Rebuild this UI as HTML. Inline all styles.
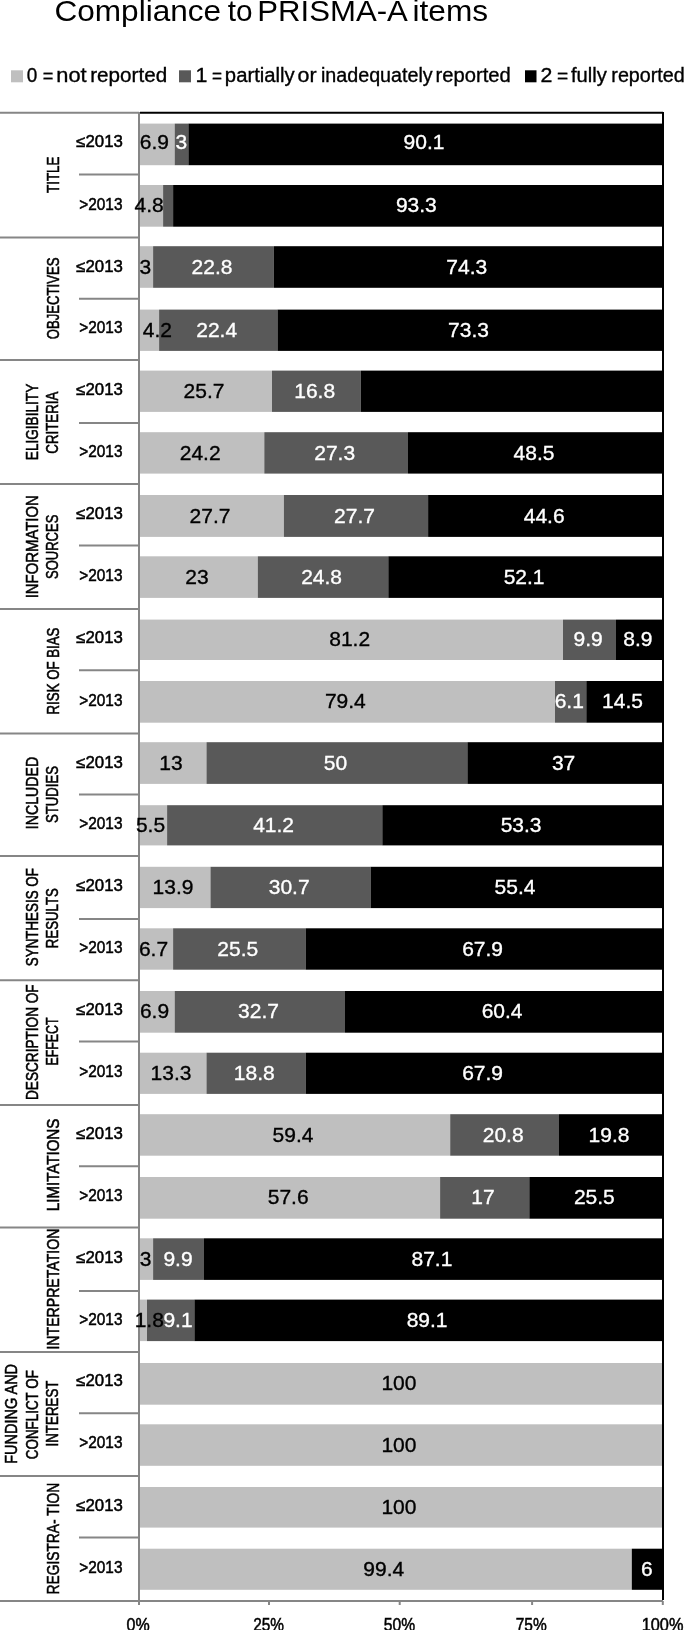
<!DOCTYPE html>
<html><head><meta charset="utf-8"><title>Compliance to PRISMA-A items</title>
<style>html,body{margin:0;padding:0;background:#fff;}svg{display:block;will-change:transform;}</style>
</head><body>
<svg width="685" height="1630" viewBox="0 0 685 1630" font-family="Liberation Sans, sans-serif">
<rect width="685" height="1630" fill="#fff"/>
<text x="54.42" y="21.30" font-size="29.5" fill="#000" textLength="166.76" lengthAdjust="spacingAndGlyphs">Compliance</text>
<text x="227.70" y="21.30" font-size="29.5" fill="#000" textLength="24.81" lengthAdjust="spacingAndGlyphs">to</text>
<text x="257.31" y="21.30" font-size="29.5" fill="#000" textLength="150.52" lengthAdjust="spacingAndGlyphs">PRISMA-A</text>
<text x="412.49" y="21.30" font-size="29.5" fill="#000" textLength="75.55" lengthAdjust="spacingAndGlyphs">items</text>
<rect x="11" y="70.3" width="12" height="12" fill="#bfbfbf"/>
<rect x="179" y="70.3" width="12" height="12" fill="#595959"/>
<rect x="525" y="70.3" width="11.5" height="12" fill="#000000"/>
<text x="26.74" y="82.40" font-size="20" fill="#000" textLength="10.54" lengthAdjust="spacingAndGlyphs" stroke="#000" stroke-width="0.35">0</text>
<text x="42.69" y="83.00" font-size="20" fill="#000" textLength="10.61" lengthAdjust="spacingAndGlyphs" stroke="#000" stroke-width="0.35">=</text>
<text x="56.27" y="82.40" font-size="20" fill="#000" textLength="30.35" lengthAdjust="spacingAndGlyphs" stroke="#000" stroke-width="0.35">not</text>
<text x="90.26" y="82.40" font-size="20" fill="#000" textLength="76.87" lengthAdjust="spacingAndGlyphs" stroke="#000" stroke-width="0.35">reported</text>
<text x="195.49" y="82.40" font-size="20" fill="#000" textLength="11.90" lengthAdjust="spacingAndGlyphs" stroke="#000" stroke-width="0.35">1</text>
<text x="212.04" y="83.00" font-size="20" fill="#000" textLength="10.01" lengthAdjust="spacingAndGlyphs" stroke="#000" stroke-width="0.35">=</text>
<text x="224.88" y="82.40" font-size="20" fill="#000" textLength="69.83" lengthAdjust="spacingAndGlyphs" stroke="#000" stroke-width="0.35">partially</text>
<text x="297.54" y="82.40" font-size="20" fill="#000" textLength="19.05" lengthAdjust="spacingAndGlyphs" stroke="#000" stroke-width="0.35">or</text>
<text x="320.92" y="82.40" font-size="20" fill="#000" textLength="111.80" lengthAdjust="spacingAndGlyphs" stroke="#000" stroke-width="0.35">inadequately</text>
<text x="435.59" y="82.40" font-size="20" fill="#000" textLength="75.21" lengthAdjust="spacingAndGlyphs" stroke="#000" stroke-width="0.35">reported</text>
<text x="540.53" y="82.40" font-size="20" fill="#000" textLength="11.85" lengthAdjust="spacingAndGlyphs" stroke="#000" stroke-width="0.35">2</text>
<text x="557.04" y="83.00" font-size="20" fill="#000" textLength="11.20" lengthAdjust="spacingAndGlyphs" stroke="#000" stroke-width="0.35">=</text>
<text x="570.90" y="82.40" font-size="20" fill="#000" textLength="35.87" lengthAdjust="spacingAndGlyphs" stroke="#000" stroke-width="0.35">fully</text>
<text x="611.32" y="82.40" font-size="20" fill="#000" textLength="73.45" lengthAdjust="spacingAndGlyphs" stroke="#000" stroke-width="0.35">reported</text>
<rect x="139.00" y="123.60" width="35.70" height="41.6" fill="#bfbfbf"/>
<rect x="174.70" y="123.60" width="13.70" height="41.6" fill="#595959"/>
<rect x="188.40" y="123.60" width="474.10" height="41.6" fill="#000000"/>
<rect x="139.00" y="185.00" width="24.10" height="41.7" fill="#bfbfbf"/>
<rect x="163.10" y="185.00" width="10.00" height="41.7" fill="#595959"/>
<rect x="173.10" y="185.00" width="489.40" height="41.7" fill="#000000"/>
<rect x="139.00" y="246.20" width="14.10" height="41.6" fill="#bfbfbf"/>
<rect x="153.10" y="246.20" width="120.80" height="41.6" fill="#595959"/>
<rect x="273.90" y="246.20" width="388.60" height="41.6" fill="#000000"/>
<rect x="139.00" y="309.60" width="20.10" height="41.3" fill="#bfbfbf"/>
<rect x="159.10" y="309.60" width="118.40" height="41.3" fill="#595959"/>
<rect x="277.50" y="309.60" width="385.00" height="41.3" fill="#000000"/>
<rect x="139.00" y="370.60" width="133.00" height="41.3" fill="#bfbfbf"/>
<rect x="272.00" y="370.60" width="88.80" height="41.3" fill="#595959"/>
<rect x="360.80" y="370.60" width="301.70" height="41.3" fill="#000000"/>
<rect x="139.00" y="432.20" width="125.30" height="41.4" fill="#bfbfbf"/>
<rect x="264.30" y="432.20" width="143.70" height="41.4" fill="#595959"/>
<rect x="408.00" y="432.20" width="254.50" height="41.4" fill="#000000"/>
<rect x="139.00" y="495.00" width="144.90" height="41.9" fill="#bfbfbf"/>
<rect x="283.90" y="495.00" width="144.20" height="41.9" fill="#595959"/>
<rect x="428.10" y="495.00" width="234.40" height="41.9" fill="#000000"/>
<rect x="139.00" y="556.30" width="118.80" height="41.6" fill="#bfbfbf"/>
<rect x="257.80" y="556.30" width="130.50" height="41.6" fill="#595959"/>
<rect x="388.30" y="556.30" width="274.20" height="41.6" fill="#000000"/>
<rect x="139.00" y="619.60" width="424.00" height="40.4" fill="#bfbfbf"/>
<rect x="563.00" y="619.60" width="53.00" height="40.4" fill="#595959"/>
<rect x="616.00" y="619.60" width="46.50" height="40.4" fill="#000000"/>
<rect x="139.00" y="681.00" width="416.00" height="41.7" fill="#bfbfbf"/>
<rect x="555.00" y="681.00" width="31.30" height="41.7" fill="#595959"/>
<rect x="586.30" y="681.00" width="76.20" height="41.7" fill="#000000"/>
<rect x="139.00" y="742.20" width="67.50" height="41.7" fill="#bfbfbf"/>
<rect x="206.50" y="742.20" width="260.90" height="41.7" fill="#595959"/>
<rect x="467.40" y="742.20" width="195.10" height="41.7" fill="#000000"/>
<rect x="139.00" y="805.20" width="28.10" height="40.2" fill="#bfbfbf"/>
<rect x="167.10" y="805.20" width="215.20" height="40.2" fill="#595959"/>
<rect x="382.30" y="805.20" width="280.20" height="40.2" fill="#000000"/>
<rect x="139.00" y="866.80" width="71.50" height="41.3" fill="#bfbfbf"/>
<rect x="210.50" y="866.80" width="160.10" height="41.3" fill="#595959"/>
<rect x="370.60" y="866.80" width="291.90" height="41.3" fill="#000000"/>
<rect x="139.00" y="928.30" width="34.10" height="41.4" fill="#bfbfbf"/>
<rect x="173.10" y="928.30" width="132.50" height="41.4" fill="#595959"/>
<rect x="305.60" y="928.30" width="356.90" height="41.4" fill="#000000"/>
<rect x="139.00" y="991.00" width="35.70" height="41.7" fill="#bfbfbf"/>
<rect x="174.70" y="991.00" width="170.30" height="41.7" fill="#595959"/>
<rect x="345.00" y="991.00" width="317.50" height="41.7" fill="#000000"/>
<rect x="139.00" y="1052.70" width="67.50" height="41.2" fill="#bfbfbf"/>
<rect x="206.50" y="1052.70" width="99.10" height="41.2" fill="#595959"/>
<rect x="305.60" y="1052.70" width="356.90" height="41.2" fill="#000000"/>
<rect x="139.00" y="1114.20" width="311.20" height="41.5" fill="#bfbfbf"/>
<rect x="450.20" y="1114.20" width="108.80" height="41.5" fill="#595959"/>
<rect x="559.00" y="1114.20" width="103.50" height="41.5" fill="#000000"/>
<rect x="139.00" y="1177.00" width="301.10" height="41.7" fill="#bfbfbf"/>
<rect x="440.10" y="1177.00" width="89.20" height="41.7" fill="#595959"/>
<rect x="529.30" y="1177.00" width="133.20" height="41.7" fill="#000000"/>
<rect x="139.00" y="1238.30" width="14.10" height="41.6" fill="#bfbfbf"/>
<rect x="153.10" y="1238.30" width="50.90" height="41.6" fill="#595959"/>
<rect x="204.00" y="1238.30" width="458.50" height="41.6" fill="#000000"/>
<rect x="139.00" y="1299.60" width="8.00" height="41.5" fill="#bfbfbf"/>
<rect x="147.00" y="1299.60" width="47.40" height="41.5" fill="#595959"/>
<rect x="194.40" y="1299.60" width="468.10" height="41.5" fill="#000000"/>
<rect x="139.00" y="1363.00" width="523.50" height="41.7" fill="#bfbfbf"/>
<rect x="139.00" y="1424.30" width="523.50" height="41.5" fill="#bfbfbf"/>
<rect x="139.00" y="1487.00" width="523.50" height="40.6" fill="#bfbfbf"/>
<rect x="139.00" y="1548.70" width="492.80" height="41.1" fill="#bfbfbf"/>
<rect x="631.80" y="1548.70" width="30.70" height="41.1" fill="#000000"/>
<g stroke="#868686" stroke-width="2" fill="none">
<line x1="0" y1="112.8" x2="139" y2="112.8"/>
<line x1="0" y1="237.4" x2="139" y2="237.4"/>
<line x1="0" y1="359.9" x2="139" y2="359.9"/>
<line x1="0" y1="484.1" x2="139" y2="484.1"/>
<line x1="0" y1="608.9" x2="139" y2="608.9"/>
<line x1="0" y1="733.6" x2="139" y2="733.6"/>
<line x1="0" y1="855.9" x2="139" y2="855.9"/>
<line x1="0" y1="980.2" x2="139" y2="980.2"/>
<line x1="0" y1="1104.9" x2="139" y2="1104.9"/>
<line x1="0" y1="1227.6" x2="139" y2="1227.6"/>
<line x1="0" y1="1351.9" x2="139" y2="1351.9"/>
<line x1="0" y1="1476.1" x2="139" y2="1476.1"/>
<line x1="79" y1="174.4" x2="139" y2="174.4"/>
<line x1="79" y1="298.8" x2="139" y2="298.8"/>
<line x1="79" y1="423" x2="139" y2="423"/>
<line x1="79" y1="545.6" x2="139" y2="545.6"/>
<line x1="79" y1="670.2" x2="139" y2="670.2"/>
<line x1="79" y1="794.5" x2="139" y2="794.5"/>
<line x1="79" y1="919" x2="139" y2="919"/>
<line x1="79" y1="1041.5" x2="139" y2="1041.5"/>
<line x1="79" y1="1166.2" x2="139" y2="1166.2"/>
<line x1="79" y1="1291" x2="139" y2="1291"/>
<line x1="79" y1="1413.2" x2="139" y2="1413.2"/>
<line x1="79" y1="1537.5" x2="139" y2="1537.5"/>
<line x1="139" y1="112" x2="139" y2="1605"/>
<line x1="0" y1="1601" x2="663" y2="1601"/>
<line x1="269" y1="1601" x2="269" y2="1605"/>
<line x1="399.7" y1="1601" x2="399.7" y2="1605"/>
<line x1="532.1" y1="1601" x2="532.1" y2="1605"/>
<line x1="662.8" y1="1601" x2="662.8" y2="1605"/>
</g>
<g stroke="#000" stroke-width="2" fill="none">
<line x1="140" y1="112.7" x2="663" y2="112.7"/>
<line x1="663" y1="112" x2="663" y2="1600"/>
</g>
<text x="139.71" y="149.00" font-size="21" fill="#000" textLength="29.19" lengthAdjust="spacingAndGlyphs" stroke="#000" stroke-width="0.35">6.9</text>
<text x="175.62" y="149.00" font-size="21" fill="#fff" textLength="11.68" lengthAdjust="spacingAndGlyphs" stroke="#fff" stroke-width="0.35">3</text>
<text x="403.57" y="149.00" font-size="21" fill="#fff" textLength="40.87" lengthAdjust="spacingAndGlyphs" stroke="#fff" stroke-width="0.35">90.1</text>
<text x="134.52" y="212.45" font-size="21" fill="#000" textLength="29.19" lengthAdjust="spacingAndGlyphs" stroke="#000" stroke-width="0.35">4.8</text>
<text x="395.93" y="212.45" font-size="21" fill="#fff" textLength="40.87" lengthAdjust="spacingAndGlyphs" stroke="#fff" stroke-width="0.35">93.3</text>
<text x="139.42" y="273.60" font-size="21" fill="#000" textLength="11.68" lengthAdjust="spacingAndGlyphs" stroke="#000" stroke-width="0.35">3</text>
<text x="191.62" y="273.60" font-size="21" fill="#fff" textLength="40.87" lengthAdjust="spacingAndGlyphs" stroke="#fff" stroke-width="0.35">22.8</text>
<text x="446.32" y="273.60" font-size="21" fill="#fff" textLength="40.87" lengthAdjust="spacingAndGlyphs" stroke="#fff" stroke-width="0.35">74.3</text>
<text x="142.72" y="336.85" font-size="21" fill="#000" textLength="29.19" lengthAdjust="spacingAndGlyphs" stroke="#000" stroke-width="0.35">4.2</text>
<text x="196.22" y="336.85" font-size="21" fill="#fff" textLength="40.87" lengthAdjust="spacingAndGlyphs" stroke="#fff" stroke-width="0.35">22.4</text>
<text x="448.12" y="336.85" font-size="21" fill="#fff" textLength="40.87" lengthAdjust="spacingAndGlyphs" stroke="#fff" stroke-width="0.35">73.3</text>
<text x="183.62" y="397.85" font-size="21" fill="#000" textLength="40.87" lengthAdjust="spacingAndGlyphs" stroke="#000" stroke-width="0.35">25.7</text>
<text x="294.21" y="397.85" font-size="21" fill="#fff" textLength="40.87" lengthAdjust="spacingAndGlyphs" stroke="#fff" stroke-width="0.35">16.8</text>
<text x="179.77" y="459.50" font-size="21" fill="#000" textLength="40.87" lengthAdjust="spacingAndGlyphs" stroke="#000" stroke-width="0.35">24.2</text>
<text x="314.27" y="459.50" font-size="21" fill="#fff" textLength="40.87" lengthAdjust="spacingAndGlyphs" stroke="#fff" stroke-width="0.35">27.3</text>
<text x="513.59" y="459.50" font-size="21" fill="#fff" textLength="40.87" lengthAdjust="spacingAndGlyphs" stroke="#fff" stroke-width="0.35">48.5</text>
<text x="189.57" y="522.55" font-size="21" fill="#000" textLength="40.87" lengthAdjust="spacingAndGlyphs" stroke="#000" stroke-width="0.35">27.7</text>
<text x="334.12" y="522.55" font-size="21" fill="#fff" textLength="40.87" lengthAdjust="spacingAndGlyphs" stroke="#fff" stroke-width="0.35">27.7</text>
<text x="523.74" y="522.55" font-size="21" fill="#fff" textLength="40.87" lengthAdjust="spacingAndGlyphs" stroke="#fff" stroke-width="0.35">44.6</text>
<text x="185.24" y="583.70" font-size="21" fill="#000" textLength="23.36" lengthAdjust="spacingAndGlyphs" stroke="#000" stroke-width="0.35">23</text>
<text x="301.18" y="583.70" font-size="21" fill="#fff" textLength="40.87" lengthAdjust="spacingAndGlyphs" stroke="#fff" stroke-width="0.35">24.8</text>
<text x="503.63" y="583.70" font-size="21" fill="#fff" textLength="40.87" lengthAdjust="spacingAndGlyphs" stroke="#fff" stroke-width="0.35">52.1</text>
<text x="329.23" y="646.40" font-size="21" fill="#000" textLength="40.87" lengthAdjust="spacingAndGlyphs" stroke="#000" stroke-width="0.35">81.2</text>
<text x="573.51" y="646.40" font-size="21" fill="#fff" textLength="29.19" lengthAdjust="spacingAndGlyphs" stroke="#fff" stroke-width="0.35">9.9</text>
<text x="623.36" y="646.40" font-size="21" fill="#fff" textLength="29.19" lengthAdjust="spacingAndGlyphs" stroke="#fff" stroke-width="0.35">8.9</text>
<text x="324.92" y="708.45" font-size="21" fill="#000" textLength="40.87" lengthAdjust="spacingAndGlyphs" stroke="#000" stroke-width="0.35">79.4</text>
<text x="554.66" y="708.45" font-size="21" fill="#fff" textLength="29.19" lengthAdjust="spacingAndGlyphs" stroke="#fff" stroke-width="0.35">6.1</text>
<text x="602.11" y="708.45" font-size="21" fill="#fff" textLength="40.87" lengthAdjust="spacingAndGlyphs" stroke="#fff" stroke-width="0.35">14.5</text>
<text x="159.27" y="769.65" font-size="21" fill="#000" textLength="23.36" lengthAdjust="spacingAndGlyphs" stroke="#000" stroke-width="0.35">13</text>
<text x="323.79" y="769.65" font-size="21" fill="#fff" textLength="23.36" lengthAdjust="spacingAndGlyphs" stroke="#fff" stroke-width="0.35">50</text>
<text x="551.89" y="769.65" font-size="21" fill="#fff" textLength="23.36" lengthAdjust="spacingAndGlyphs" stroke="#fff" stroke-width="0.35">37</text>
<text x="135.91" y="831.90" font-size="21" fill="#000" textLength="29.19" lengthAdjust="spacingAndGlyphs" stroke="#000" stroke-width="0.35">5.5</text>
<text x="253.14" y="831.90" font-size="21" fill="#fff" textLength="40.87" lengthAdjust="spacingAndGlyphs" stroke="#fff" stroke-width="0.35">41.2</text>
<text x="500.63" y="831.90" font-size="21" fill="#fff" textLength="40.87" lengthAdjust="spacingAndGlyphs" stroke="#fff" stroke-width="0.35">53.3</text>
<text x="152.56" y="894.05" font-size="21" fill="#000" textLength="40.87" lengthAdjust="spacingAndGlyphs" stroke="#000" stroke-width="0.35">13.9</text>
<text x="268.78" y="894.05" font-size="21" fill="#fff" textLength="40.87" lengthAdjust="spacingAndGlyphs" stroke="#fff" stroke-width="0.35">30.7</text>
<text x="494.57" y="894.05" font-size="21" fill="#fff" textLength="40.87" lengthAdjust="spacingAndGlyphs" stroke="#fff" stroke-width="0.35">55.4</text>
<text x="138.91" y="955.60" font-size="21" fill="#000" textLength="29.19" lengthAdjust="spacingAndGlyphs" stroke="#000" stroke-width="0.35">6.7</text>
<text x="217.37" y="955.60" font-size="21" fill="#fff" textLength="40.87" lengthAdjust="spacingAndGlyphs" stroke="#fff" stroke-width="0.35">25.5</text>
<text x="462.18" y="955.60" font-size="21" fill="#fff" textLength="40.87" lengthAdjust="spacingAndGlyphs" stroke="#fff" stroke-width="0.35">67.9</text>
<text x="139.91" y="1018.45" font-size="21" fill="#000" textLength="29.19" lengthAdjust="spacingAndGlyphs" stroke="#000" stroke-width="0.35">6.9</text>
<text x="238.08" y="1018.45" font-size="21" fill="#fff" textLength="40.87" lengthAdjust="spacingAndGlyphs" stroke="#fff" stroke-width="0.35">32.7</text>
<text x="481.67" y="1018.45" font-size="21" fill="#fff" textLength="40.87" lengthAdjust="spacingAndGlyphs" stroke="#fff" stroke-width="0.35">60.4</text>
<text x="150.56" y="1079.90" font-size="21" fill="#000" textLength="40.87" lengthAdjust="spacingAndGlyphs" stroke="#000" stroke-width="0.35">13.3</text>
<text x="233.86" y="1079.90" font-size="21" fill="#fff" textLength="40.87" lengthAdjust="spacingAndGlyphs" stroke="#fff" stroke-width="0.35">18.8</text>
<text x="462.18" y="1079.90" font-size="21" fill="#fff" textLength="40.87" lengthAdjust="spacingAndGlyphs" stroke="#fff" stroke-width="0.35">67.9</text>
<text x="272.62" y="1141.55" font-size="21" fill="#000" textLength="40.87" lengthAdjust="spacingAndGlyphs" stroke="#000" stroke-width="0.35">59.4</text>
<text x="482.73" y="1141.55" font-size="21" fill="#fff" textLength="40.87" lengthAdjust="spacingAndGlyphs" stroke="#fff" stroke-width="0.35">20.8</text>
<text x="588.56" y="1141.55" font-size="21" fill="#fff" textLength="40.87" lengthAdjust="spacingAndGlyphs" stroke="#fff" stroke-width="0.35">19.8</text>
<text x="267.78" y="1204.45" font-size="21" fill="#000" textLength="40.87" lengthAdjust="spacingAndGlyphs" stroke="#000" stroke-width="0.35">57.6</text>
<text x="471.23" y="1204.45" font-size="21" fill="#fff" textLength="23.36" lengthAdjust="spacingAndGlyphs" stroke="#fff" stroke-width="0.35">17</text>
<text x="573.92" y="1204.45" font-size="21" fill="#fff" textLength="40.87" lengthAdjust="spacingAndGlyphs" stroke="#fff" stroke-width="0.35">25.5</text>
<text x="139.82" y="1265.70" font-size="21" fill="#000" textLength="11.68" lengthAdjust="spacingAndGlyphs" stroke="#000" stroke-width="0.35">3</text>
<text x="163.41" y="1265.70" font-size="21" fill="#fff" textLength="29.19" lengthAdjust="spacingAndGlyphs" stroke="#fff" stroke-width="0.35">9.9</text>
<text x="411.48" y="1265.70" font-size="21" fill="#fff" textLength="40.87" lengthAdjust="spacingAndGlyphs" stroke="#fff" stroke-width="0.35">87.1</text>
<text x="134.69" y="1326.95" font-size="21" fill="#000" textLength="29.19" lengthAdjust="spacingAndGlyphs" stroke="#000" stroke-width="0.35">1.8</text>
<text x="163.41" y="1326.95" font-size="21" fill="#fff" textLength="29.19" lengthAdjust="spacingAndGlyphs" stroke="#fff" stroke-width="0.35">9.1</text>
<text x="406.68" y="1326.95" font-size="21" fill="#fff" textLength="40.87" lengthAdjust="spacingAndGlyphs" stroke="#fff" stroke-width="0.35">89.1</text>
<text x="381.40" y="1390.45" font-size="21" fill="#000" textLength="35.03" lengthAdjust="spacingAndGlyphs" stroke="#000" stroke-width="0.35">100</text>
<text x="381.40" y="1451.65" font-size="21" fill="#000" textLength="35.03" lengthAdjust="spacingAndGlyphs" stroke="#000" stroke-width="0.35">100</text>
<text x="381.40" y="1513.90" font-size="21" fill="#000" textLength="35.03" lengthAdjust="spacingAndGlyphs" stroke="#000" stroke-width="0.35">100</text>
<text x="363.31" y="1575.85" font-size="21" fill="#000" textLength="40.87" lengthAdjust="spacingAndGlyphs" stroke="#000" stroke-width="0.35">99.4</text>
<text x="640.92" y="1575.85" font-size="21" fill="#fff" textLength="11.68" lengthAdjust="spacingAndGlyphs" stroke="#fff" stroke-width="0.35">6</text>
<text x="76.30" y="147.40" font-size="16" fill="#000" textLength="46.53" lengthAdjust="spacingAndGlyphs" stroke="#000" stroke-width="0.5">≤2013</text>
<text x="79.33" y="209.70" font-size="16" fill="#000" textLength="43.11" lengthAdjust="spacingAndGlyphs" stroke="#000" stroke-width="0.5">&gt;2013</text>
<text x="76.30" y="271.90" font-size="16" fill="#000" textLength="46.53" lengthAdjust="spacingAndGlyphs" stroke="#000" stroke-width="0.5">≤2013</text>
<text x="79.33" y="333.15" font-size="16" fill="#000" textLength="43.11" lengthAdjust="spacingAndGlyphs" stroke="#000" stroke-width="0.5">&gt;2013</text>
<text x="76.30" y="395.25" font-size="16" fill="#000" textLength="46.53" lengthAdjust="spacingAndGlyphs" stroke="#000" stroke-width="0.5">≤2013</text>
<text x="79.33" y="457.35" font-size="16" fill="#000" textLength="43.11" lengthAdjust="spacingAndGlyphs" stroke="#000" stroke-width="0.5">&gt;2013</text>
<text x="76.30" y="518.65" font-size="16" fill="#000" textLength="46.53" lengthAdjust="spacingAndGlyphs" stroke="#000" stroke-width="0.5">≤2013</text>
<text x="79.33" y="581.05" font-size="16" fill="#000" textLength="43.11" lengthAdjust="spacingAndGlyphs" stroke="#000" stroke-width="0.5">&gt;2013</text>
<text x="76.30" y="643.35" font-size="16" fill="#000" textLength="46.53" lengthAdjust="spacingAndGlyphs" stroke="#000" stroke-width="0.5">≤2013</text>
<text x="79.33" y="705.70" font-size="16" fill="#000" textLength="43.11" lengthAdjust="spacingAndGlyphs" stroke="#000" stroke-width="0.5">&gt;2013</text>
<text x="76.30" y="767.85" font-size="16" fill="#000" textLength="46.53" lengthAdjust="spacingAndGlyphs" stroke="#000" stroke-width="0.5">≤2013</text>
<text x="79.33" y="829.00" font-size="16" fill="#000" textLength="43.11" lengthAdjust="spacingAndGlyphs" stroke="#000" stroke-width="0.5">&gt;2013</text>
<text x="76.30" y="891.25" font-size="16" fill="#000" textLength="46.53" lengthAdjust="spacingAndGlyphs" stroke="#000" stroke-width="0.5">≤2013</text>
<text x="79.33" y="953.40" font-size="16" fill="#000" textLength="43.11" lengthAdjust="spacingAndGlyphs" stroke="#000" stroke-width="0.5">&gt;2013</text>
<text x="76.30" y="1014.65" font-size="16" fill="#000" textLength="46.53" lengthAdjust="spacingAndGlyphs" stroke="#000" stroke-width="0.5">≤2013</text>
<text x="79.33" y="1077.00" font-size="16" fill="#000" textLength="43.11" lengthAdjust="spacingAndGlyphs" stroke="#000" stroke-width="0.5">&gt;2013</text>
<text x="76.30" y="1139.35" font-size="16" fill="#000" textLength="46.53" lengthAdjust="spacingAndGlyphs" stroke="#000" stroke-width="0.5">≤2013</text>
<text x="79.33" y="1200.70" font-size="16" fill="#000" textLength="43.11" lengthAdjust="spacingAndGlyphs" stroke="#000" stroke-width="0.5">&gt;2013</text>
<text x="76.30" y="1263.10" font-size="16" fill="#000" textLength="46.53" lengthAdjust="spacingAndGlyphs" stroke="#000" stroke-width="0.5">≤2013</text>
<text x="79.33" y="1325.25" font-size="16" fill="#000" textLength="43.11" lengthAdjust="spacingAndGlyphs" stroke="#000" stroke-width="0.5">&gt;2013</text>
<text x="76.30" y="1386.35" font-size="16" fill="#000" textLength="46.53" lengthAdjust="spacingAndGlyphs" stroke="#000" stroke-width="0.5">≤2013</text>
<text x="79.33" y="1448.45" font-size="16" fill="#000" textLength="43.11" lengthAdjust="spacingAndGlyphs" stroke="#000" stroke-width="0.5">&gt;2013</text>
<text x="76.30" y="1510.60" font-size="16" fill="#000" textLength="46.53" lengthAdjust="spacingAndGlyphs" stroke="#000" stroke-width="0.5">≤2013</text>
<text x="79.33" y="1573.05" font-size="16" fill="#000" textLength="43.11" lengthAdjust="spacingAndGlyphs" stroke="#000" stroke-width="0.5">&gt;2013</text>
<text transform="translate(58.60,192.80) rotate(-90)" x="-0.27" y="0" font-size="16.4" fill="#000" stroke="#000" stroke-width="0.55" textLength="36.61" lengthAdjust="spacingAndGlyphs">TITLE</text>
<text transform="translate(58.60,338.70) rotate(-90)" x="-0.66" y="0" font-size="16.4" fill="#000" stroke="#000" stroke-width="0.55" textLength="81.93" lengthAdjust="spacingAndGlyphs">OBJECTIVES</text>
<text transform="translate(37.90,459.10) rotate(-90)" x="-1.09" y="0" font-size="16.4" fill="#000" stroke="#000" stroke-width="0.55" textLength="76.40" lengthAdjust="spacingAndGlyphs">ELIGIBILITY</text>
<text transform="translate(58.40,453.00) rotate(-90)" x="-0.66" y="0" font-size="16.4" fill="#000" stroke="#000" stroke-width="0.55" textLength="62.06" lengthAdjust="spacingAndGlyphs">CRITERIA</text>
<text transform="translate(37.90,597.00) rotate(-90)" x="-1.34" y="0" font-size="16.4" fill="#000" stroke="#000" stroke-width="0.55" textLength="103.11" lengthAdjust="spacingAndGlyphs">INFORMATION</text>
<text transform="translate(58.40,578.30) rotate(-90)" x="-0.65" y="0" font-size="16.4" fill="#000" stroke="#000" stroke-width="0.55" textLength="64.24" lengthAdjust="spacingAndGlyphs">SOURCES</text>
<text transform="translate(58.60,713.40) rotate(-90)" x="-1.06" y="0" font-size="16.4" fill="#000" stroke="#000" stroke-width="0.55" textLength="86.89" lengthAdjust="spacingAndGlyphs">RISK OF BIAS</text>
<text transform="translate(37.90,827.90) rotate(-90)" x="-1.27" y="0" font-size="16.4" fill="#000" stroke="#000" stroke-width="0.55" textLength="72.37" lengthAdjust="spacingAndGlyphs">INCLUDED</text>
<text transform="translate(58.40,822.40) rotate(-90)" x="-0.66" y="0" font-size="16.4" fill="#000" stroke="#000" stroke-width="0.55" textLength="57.04" lengthAdjust="spacingAndGlyphs">STUDIES</text>
<text transform="translate(37.90,965.50) rotate(-90)" x="-0.67" y="0" font-size="16.4" fill="#000" stroke="#000" stroke-width="0.55" textLength="97.96" lengthAdjust="spacingAndGlyphs">SYNTHESIS OF</text>
<text transform="translate(58.40,947.10) rotate(-90)" x="-1.06" y="0" font-size="16.4" fill="#000" stroke="#000" stroke-width="0.55" textLength="59.99" lengthAdjust="spacingAndGlyphs">RESULTS</text>
<text transform="translate(37.90,1098.90) rotate(-90)" x="-1.09" y="0" font-size="16.4" fill="#000" stroke="#000" stroke-width="0.55" textLength="115.64" lengthAdjust="spacingAndGlyphs">DESCRIPTION OF</text>
<text transform="translate(58.40,1064.60) rotate(-90)" x="-0.99" y="0" font-size="16.4" fill="#000" stroke="#000" stroke-width="0.55" textLength="48.22" lengthAdjust="spacingAndGlyphs">EFFECT</text>
<text transform="translate(58.60,1210.00) rotate(-90)" x="-1.21" y="0" font-size="16.4" fill="#000" stroke="#000" stroke-width="0.55" textLength="92.56" lengthAdjust="spacingAndGlyphs">LIMITATIONS</text>
<text transform="translate(58.60,1348.30) rotate(-90)" x="-1.27" y="0" font-size="16.4" fill="#000" stroke="#000" stroke-width="0.55" textLength="120.96" lengthAdjust="spacingAndGlyphs">INTERPRETATION</text>
<text transform="translate(17.20,1462.60) rotate(-90)" x="-1.16" y="0" font-size="16.4" fill="#000" stroke="#000" stroke-width="0.55" textLength="99.83" lengthAdjust="spacingAndGlyphs">FUNDING AND</text>
<text transform="translate(37.90,1458.50) rotate(-90)" x="-0.67" y="0" font-size="16.4" fill="#000" stroke="#000" stroke-width="0.55" textLength="88.98" lengthAdjust="spacingAndGlyphs">CONFLICT OF</text>
<text transform="translate(58.40,1445.30) rotate(-90)" x="-1.20" y="0" font-size="16.4" fill="#000" stroke="#000" stroke-width="0.55" textLength="65.93" lengthAdjust="spacingAndGlyphs">INTEREST</text>
<text transform="translate(58.60,1593.40) rotate(-90)" x="-1.10" y="0" font-size="16.4" fill="#000" stroke="#000" stroke-width="0.55" textLength="111.65" lengthAdjust="spacingAndGlyphs">REGISTRA- TION</text>
<text x="126.61" y="1630.90" font-size="17.8" fill="#000" textLength="23.10" lengthAdjust="spacingAndGlyphs" stroke="#000" stroke-width="0.5">0%</text>
<text x="253.23" y="1630.90" font-size="17.8" fill="#000" textLength="30.81" lengthAdjust="spacingAndGlyphs" stroke="#000" stroke-width="0.5">25%</text>
<text x="383.77" y="1630.90" font-size="17.8" fill="#000" textLength="31.27" lengthAdjust="spacingAndGlyphs" stroke="#000" stroke-width="0.5">50%</text>
<text x="515.73" y="1630.90" font-size="17.8" fill="#000" textLength="31.02" lengthAdjust="spacingAndGlyphs" stroke="#000" stroke-width="0.5">75%</text>
<text x="641.70" y="1630.90" font-size="17.8" fill="#000" textLength="41.72" lengthAdjust="spacingAndGlyphs" stroke="#000" stroke-width="0.5">100%</text>
</svg>
</body></html>
